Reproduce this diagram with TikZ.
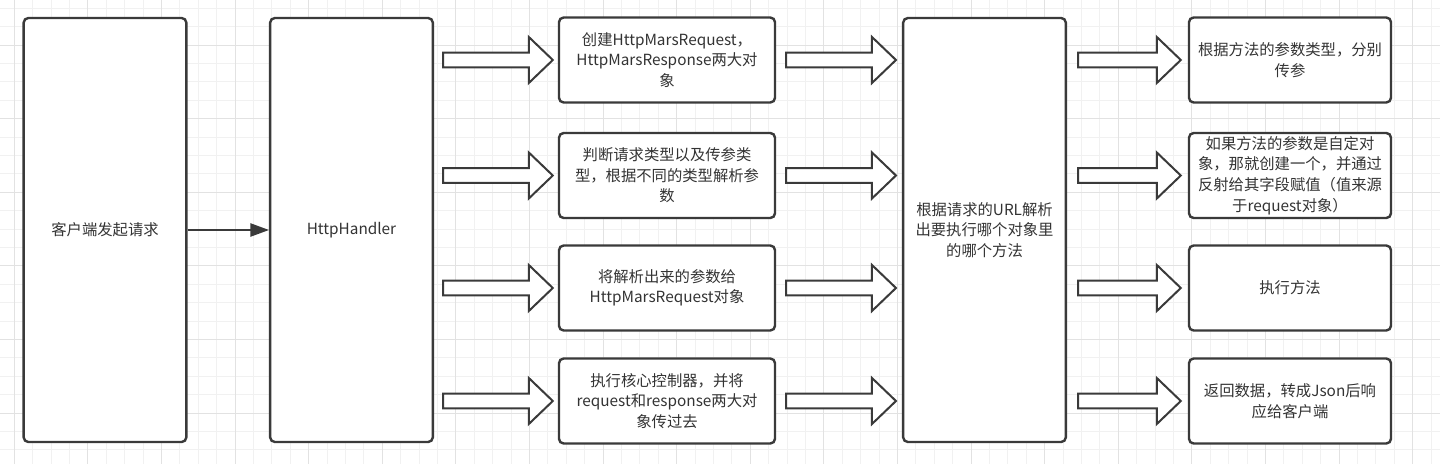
\documentclass[tikz,border=0pt]{standalone}
\usepackage{fontspec}
\setmainfont{Noto Sans CJK SC}
\usetikzlibrary{arrows.meta,calc,positioning}

\definecolor{edge}{HTML}{3A3A3A}
\definecolor{ink}{HTML}{333333}
\definecolor{gridminor}{HTML}{F1F1F1}
\definecolor{gridmajor}{HTML}{E2E2E2}

\begin{document}
\begin{tikzpicture}[
    x=0.75pt,
    y=-0.75pt,
    every node/.style={inner sep=2pt, text=ink, align=center,
        font=\fontsize{11.5pt}{15.4pt}\selectfont},
    box/.style={draw=edge, fill=white, line width=1.8pt, rounded corners=3.5pt},
    tall/.style={box, minimum width=122pt, minimum height=318pt},
    step box/.style={box, minimum width=162pt, minimum height=63.75pt},
    end box/.style={box, minimum width=151.5pt, minimum height=63.75pt},
    fat/.style={draw=edge, fill=white, line width=1.5pt, line join=miter,
        to path={let \p1=(\tikztostart), \p2=(\tikztotarget) in
            (\x1,\y1+5.6pt) -- (\x2-18pt,\y1+5.6pt) -- (\x2-18pt,\y1+17.25pt)
            -- (\x2,\y1) -- (\x2-18pt,\y1-17.25pt) -- (\x2-18pt,\y1-5.6pt)
            -- (\x1,\y1-5.6pt) -- cycle}}
]

\useasboundingbox (0,0) rectangle (1440,464);
\fill[white] (0,0) rectangle (1440,464);

% Grid
\foreach \i in {0,...,78}
    \draw[gridminor, line width=0.6pt] ({14.2+18.4*\i},0) -- ++(0,464);
\foreach \j in {0,...,25}
    \draw[gridminor, line width=0.6pt] (0,{8.2+18.4*\j}) -- ++(1440,0);
\foreach \i in {0,...,19}
    \draw[gridmajor, line width=0.6pt] ({14.2+73.6*\i},0) -- ++(0,464);
\foreach \j in {0,...,5}
    \draw[gridmajor, line width=0.6pt] (0,{45+73.6*\j}) -- ++(1440,0);


% Tall boxes
\node[tall] (client) at (105,230) {客户端发起请求};
\node[tall] (hh) at (351.5,230) {HttpHandler};
\node[tall] (url) at (984.5,230) {根据请求的URL解析\\出要执行哪个对象里\\的哪个方法};


% Handler steps
\node[step box] (m1) at (667,60) {创建HttpMarsRequest，\\HttpMarsResponse两大对\\象};
\node[step box] (m2) at (667,175.5) {判断请求类型以及传参类\\型，根据不同的类型解析参\\数};
\node[step box] (m3) at (667,288) {将解析出来的参数给\\HttpMarsRequest对象};
\node[step box] (m4) at (667,401) {执行核心控制器，并将\\request和response两大对\\象传过去};


% Method steps
\node[end box] (r1) at (1290,60) {根据方法的参数类型，分别\\传参};
\node[end box] (r2) at (1290,175.5) {如果方法的参数是自定对\\象，那就创建一个，并通过\\反射给其字段赋值（值来源\\于request对象）};
\node[end box] (r3) at (1290,288) {执行方法};
\node[end box] (r4) at (1290,401) {返回数据，转成Json后响\\应给客户端};


% Connectors
\draw[draw=edge, line width=1.1pt, -{Triangle[length=14pt,width=10pt]}] (client) -- (hh);

\foreach \m in {m1,m2,m3,m4}
    \draw[fat] ($(hh.east |- \m)+(9,0)$) to ($(\m.west)+(-5,0)$);

\foreach \m in {m1,m2,m3,m4}
    \draw[fat] ($(\m.east)+(10,0)$) to ($(url.west |- \m)+(-6,0)$);

\foreach \r in {r1,r2,r3,r4}
    \draw[fat] ($(url.east |- \r)+(11,0)$) to ($(\r.west)+(-7,0)$);


\end{tikzpicture}
\end{document}
